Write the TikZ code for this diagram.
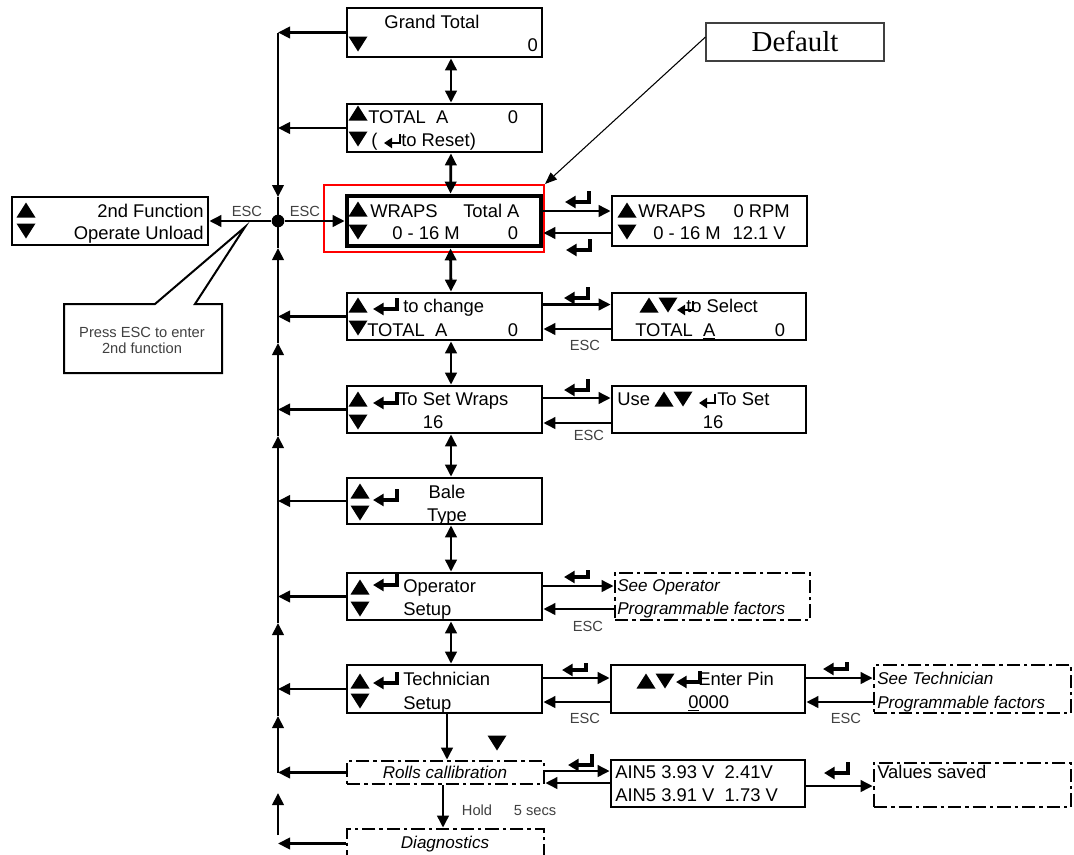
\documentclass[tikz,border=0pt]{standalone}
\usepackage{fontspec}
\setmainfont{Liberation Sans}
\newfontfamily\timesf{Liberation Serif}
\usetikzlibrary{arrows.meta,fit,calc}
\definecolor{escgray}{RGB}{64,64,64}
\begin{document}
\begin{tikzpicture}[x=0.75pt,y=-0.75pt,
  lcd/.style={draw, line width=2pt, inner sep=0pt},
  lcdthick/.style={draw, line width=3.5pt, inner sep=0pt},
  dbox/.style={draw, line width=2pt, inner sep=0pt, dash pattern=on 10pt off 3pt on 2.5pt off 3pt},
  tx/.style={inner sep=0pt, font=\fontsize{13.8}{16}\selectfont},
  ti/.style={inner sep=0pt, font=\fontsize{12.8}{15}\selectfont\itshape},
  sm/.style={inner sep=0pt, text=escgray, font=\fontsize{11}{13}\selectfont},
  arr/.style={line width=2.1pt, -{Triangle[length=9pt,width=8.5pt]}},
  darr/.style={line width=2.1pt, {Triangle[length=9pt,width=8.5pt]}-{Triangle[length=9pt,width=8.5pt]}},
  busline/.style={line width=2.1pt},
  tup/.pic={\fill (-9.5,7.5) -- (9.5,7.5) -- (0,-7.5) -- cycle;},
  tdn/.pic={\fill (-9.5,-7.5) -- (9.5,-7.5) -- (0,7.5) -- cycle;},
  ent/.pic={\draw[line width=2.4pt,-{Triangle[length=8pt,width=9pt]}] (12,-11) -- (12,0) -- (-12,0);},
  ents/.pic={\draw[line width=2.4pt,-{Triangle[length=8pt,width=9pt]}] (12,-7) -- (12,0) -- (-12,0);},
  enti/.pic={\draw[line width=2pt,-{Triangle[length=6pt,width=7.5pt]}] (8,-9) -- (8,0) -- (-8,0);},
]
\path[use as bounding box, fill=white] (0,0) rectangle (1074,854);

% ---------- boxes ----------
\node[lcd, fit={(347,8) (542,57)}] (gt) {};
\node[lcd, fit={(347,104) (542,152)}] (ta) {};
\node[lcdthick, fit={(347,196) (541,246)}] (wr) {};
\node[draw=red, line width=1.5pt, inner sep=0pt, fit={(324,185) (544,252)}] (redbox) {};
\node[lcd, fit={(612,196) (807,246)}] (wrr) {};
\node[lcd, fit={(347,293) (542,340)}] (tc) {};
\node[lcd, fit={(612,293) (806,340)}] (tsel) {};
\node[lcd, fit={(347,386) (542,433)}] (sw) {};
\node[lcd, fit={(612,386) (806,433)}] (usebox) {};
\node[lcd, fit={(347,478) (542,524)}] (bt) {};
\node[lcd, fit={(347,573) (542,620)}] (op) {};
\node[dbox, fit={(615,573) (810,620)}] (opf) {};
\node[lcd, fit={(347,665) (542,713)}] (te) {};
\node[lcd, fit={(611,665) (805,713)}] (pin) {};
\node[dbox, fit={(874,665) (1071,713)}] (tef) {};
\node[dbox, fit={(347,761) (544,784)}] (rc) {};
\node[lcd, fit={(611,760) (805,807)}] (ain) {};
\node[dbox, fit={(874,763) (1071,807)}] (valbox) {};
\node[dbox, fit={(347,829) (544,858)}] (dg) {};
\node[lcd, fit={(12,197) (208,245)}] (fn) {};
\node[draw=black!75, line width=0.8pt, inner sep=0pt, fit={(706,23) (884,61)}] (defbox) {};

% ---------- texts ----------
\node[tx, anchor=base] (gt1) at (432,28) {Grand Total};
\node[tx, anchor=base east] (gt2) at (538,51) {0};
\pic at (358,44) {tdn};

\node[tx, anchor=base west] (ta1) at (368,123) {TOTAL\ \ A};
\node[tx, anchor=base] (ta2) at (513,123) {0};
\node[tx, anchor=base west] (ta3) at (371,146) {(};
\node[tx, anchor=base west] (ta4) at (401,146) {to Reset)};
\pic at (358,113) {tup}; \pic at (358,139) {tdn}; \pic at (392,143) {enti};

\node[tx, anchor=base west] (wr1) at (370,217) {WRAPS};
\node[tx, anchor=base west] (wr2) at (463,217) {Total A};
\node[tx, anchor=base west] (wr3) at (392,239) {0 - 16 M};
\node[tx, anchor=base] (wr4) at (513,239) {0};
\pic at (358,209) {tup}; \pic at (358,232) {tdn};

\node[tx, anchor=base west] (wrr1) at (638,217) {WRAPS};
\node[tx, anchor=base east] (wrr2) at (790,217) {0 RPM};
\node[tx, anchor=base west] (wrr3) at (653,239) {0 - 16 M};
\node[tx, anchor=base east] (wrr4) at (786,239) {12.1 V};
\pic at (627,210) {tup}; \pic at (627,232) {tdn};
\pic at (577,202) {ent}; \pic at (578,250) {ent};

\pic at (358,305) {tup}; \pic at (358,328) {tdn}; \pic at (385,309) {ent};
\node[tx, anchor=base west] (tc1) at (403,312) {to change};
\node[tx, anchor=base west] (tc2) at (367,336) {TOTAL\ \ A};
\node[tx, anchor=base] (tc3) at (513,336) {0};

\pic at (649,305) {tup}; \pic at (668,305) {tdn}; \pic at (685,310) {enti};
\node[tx, anchor=base west] (ts1) at (686,312) {to Select};
\node[tx, anchor=base west] (ts2) at (635,336) {TOTAL\ \ \underline{A}};
\node[tx, anchor=base] (ts3) at (780,336) {0};
\pic at (576,298) {ent};
\node[sm, anchor=base] (esc3) at (585,350) {ESC};

\pic at (358,399) {tup}; \pic at (358,422) {tdn}; \pic at (385,403) {ent};
\node[tx, anchor=base west] (sw1) at (398,405) {To Set Wraps};
\node[tx, anchor=base] (sw2) at (433,428) {16};
\node[tx, anchor=base west] (us1) at (617,405) {Use};
\pic at (664,399) {tup}; \pic at (683,399) {tdn}; \pic at (707,403) {enti};
\node[tx, anchor=base west] (us2) at (717,405) {To Set};
\node[tx, anchor=base] (us3) at (713,428) {16};
\pic at (576,390) {ent};
\node[sm, anchor=base] (esc4) at (589,440) {ESC};

\pic at (360,491) {tup}; \pic at (360,513) {tdn}; \pic at (385,500) {ent};
\node[tx, anchor=base] (bt1) at (447,498) {Bale};
\node[tx, anchor=base] (bt2) at (447,521) {Type};

\pic at (360,587) {tup}; \pic at (360,609) {tdn}; \pic at (385,585) {ent};
\node[tx, anchor=base west] (op1) at (403,592) {Operator};
\node[tx, anchor=base west] (op2) at (403,615) {Setup};
\node[ti, anchor=base west] (of1) at (617,591) {See Operator};
\node[ti, anchor=base west] (of2) at (617,614) {Programmable factors};
\pic at (576,577) {ents};
\node[sm, anchor=base] (esc5) at (588,631) {ESC};

\pic at (360,681) {tup}; \pic at (360,701) {tdn}; \pic at (385,683) {ent};
\node[tx, anchor=base west] (te1) at (403,685) {Technician};
\node[tx, anchor=base west] (te2) at (403,709) {Setup};
\pic at (646,681) {tup}; \pic at (665,681) {tdn}; \pic at (688,682) {ent};
\node[tx, anchor=base west] (pn1) at (698,685) {Enter Pin};
\node[tx, anchor=base west] (pn2) at (688,708) {\underline{0}000};
\node[ti, anchor=base west] (tf1) at (877,684) {See Technician};
\node[ti, anchor=base west] (tf2) at (877,708) {Programmable factors};
\pic at (574,670) {ents}; \pic at (835,669) {ents};
\node[sm, anchor=base] (esc6) at (585,723) {ESC};
\node[sm, anchor=base] (esc7) at (846,723) {ESC};

\node[ti, anchor=base] (rc1) at (445,778) {Rolls callibration};
\pic at (497,743) {tdn};
\node[tx, anchor=base west] (ai1) at (615,778) {AIN5 3.93 V\ \ 2.41V};
\node[tx, anchor=base west] (ai2) at (615,801) {AIN5 3.91 V\ \ 1.73 V};
\node[tx, anchor=base west] (va1) at (877,778) {Values saved};
\pic at (580,765) {ent}; \pic at (836,773) {ent};
\node[ti, anchor=base] (dg1) at (445,848) {Diagnostics};
\node[sm, anchor=base] (hd1) at (477,815) {Hold};
\node[sm, anchor=base] (hd2) at (535,815) {5 secs};

\pic at (26,210) {tup}; \pic at (26,231) {tdn};
\node[tx, anchor=base east] (fn1) at (204,217) {2nd Function};
\node[tx, anchor=base east] (fn2) at (204,239) {Operate Unload};
\node[sm, anchor=base] (esc1) at (247,216) {ESC};
\node[sm, anchor=base] (esc2) at (305,216) {ESC};

% callout
\draw[line width=1.5pt, fill=white] (64,304) -- (155,304) -- (245,227) -- (195,304) -- (222,304) -- (222,373) -- (64,373) -- cycle;
\node[sm, anchor=base] (co1) at (142,337) {Press ESC to enter};
\node[sm, anchor=base] (co2) at (142,353) {2nd function};

% default
\node[inner sep=0pt, anchor=base, font=\timesf\fontsize{21.7}{24}\selectfont] (df1) at (795,51) {Default};
\draw[line width=0.8pt, -{Triangle[length=9pt,width=7pt]}] ($(defbox.west)+(0,-5)$) -- (redbox.north east);

% ---------- bus ----------
\coordinate (busx) at (278,0);
\node[circle, fill, inner sep=0pt, minimum size=9.5pt] (jn) at (278,221) {};
\coordinate (bdn) at (278,197);
\coordinate (bu1) at (278,248);
\coordinate (bu2) at (278,343);
\coordinate (bu3) at (278,436);
\coordinate (bu4) at (278,623);
\coordinate (bu5) at (278,716);
\draw[arr] (gt.west -| busx) -- (bdn);
\draw[busline] (bdn) -- (jn.center);
\draw[arr] (rc.west -| busx) -- (bu5);
\draw[arr] (bu5) -- (bu4);
\draw[arr] (bu4) -- (bu3);
\draw[arr] (bu3) -- (bu2);
\draw[arr] (bu2) -- (bu1);
\draw[busline] (bu1) -- (jn.center);
\foreach \b in {gt,ta,tc,sw,bt,op,te,rc,dg} \draw[arr] (\b.west) -- (\b.west -| busx);
\coordinate (bs1) at (278,835);
\coordinate (bs2) at (278,793);
\draw[arr] (bs1) -- (bs2);
\draw[arr] (jn) -- (wr.west);
\draw[arr] (jn) -- (fn.east);

% ---------- vertical chain ----------
\draw[darr] ($(gt.south)+(6.5,0)$) -- ($(ta.north)+(6.5,0)$);
\draw[darr] ($(ta.south)+(6.5,0)$) -- ($(wr.north)+(6.5,0)$);
\draw[darr] ($(wr.south)+(6.5,0)$) -- ($(tc.north)+(6.5,0)$);
\draw[darr] ($(tc.south)+(6.5,0)$) -- ($(sw.north)+(6.5,0)$);
\draw[darr] ($(sw.south)+(6.5,0)$) -- ($(bt.north)+(6.5,0)$);
\draw[darr] ($(bt.south)+(6.5,0)$) -- ($(op.north)+(6.5,0)$);
\draw[darr] ($(op.south)+(6.5,0)$) -- ($(te.north)+(6.5,0)$);
\draw[arr] ($(te.south)+(2.5,0)$) -- ($(rc.north)+(1.5,0)$);
\draw[arr] ($(rc.south)+(-2.5,0)$) -- ($(dg.north)+(-2.5,0)$);

% ---------- horizontal pairs ----------
\draw[arr] ($(wr.east)+(0,-10)$) -- ($(wrr.west)+(0,-10)$);
\draw[arr] ($(wrr.west)+(0,12)$) -- ($(wr.east)+(0,12)$);
\draw[arr] ($(tc.east)+(0,-12)$) -- ($(tsel.west)+(0,-12)$);
\draw[arr] ($(tsel.west)+(0,12.5)$) -- ($(tc.east)+(0,12.5)$);
\draw[arr] ($(sw.east)+(0,-11.5)$) -- ($(usebox.west)+(0,-11.5)$);
\draw[arr] ($(usebox.west)+(0,13.5)$) -- ($(sw.east)+(0,13.5)$);
\draw[arr] ($(op.east)+(0,-10.5)$) -- ($(opf.west)+(0,-10.5)$);
\draw[arr] ($(opf.west)+(0,12.5)$) -- ($(op.east)+(0,12.5)$);
\draw[arr] ($(te.east)+(0,-11)$) -- ($(pin.west)+(0,-11)$);
\draw[arr] ($(pin.west)+(0,13)$) -- ($(te.east)+(0,13)$);
\draw[arr] ($(pin.east)+(0,-11)$) -- ($(tef.west)+(0,-11)$);
\draw[arr] ($(tef.west)+(0,13)$) -- ($(pin.east)+(0,13)$);
\draw[arr] ($(rc.east)+(0,-1.5)$) -- ($(ain.west)+(0,-12.5)$);
\draw[arr] ($(ain.west)+(0,-0.5)$) -- ($(rc.east)+(0,10.5)$);
\draw[arr] ($(ain.east)+(0,2.5)$) -- ($(valbox.west)+(0,1)$);
\end{tikzpicture}
\end{document}
